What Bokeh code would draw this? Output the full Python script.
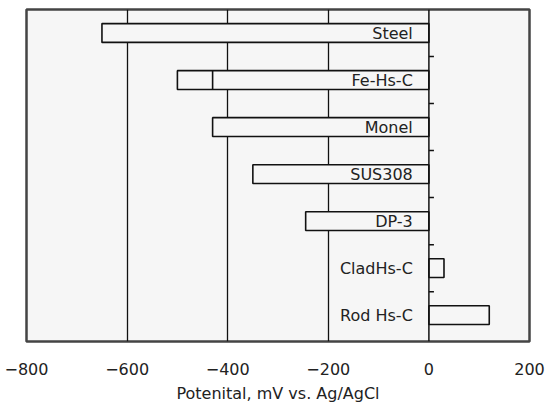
from bokeh.plotting import figure
from bokeh.models import Range1d, FixedTicker, Span, ColumnDataSource
from bokeh.embed import file_html
from bokeh.resources import INLINE
from bokeh.core.properties import value

materials = ["Steel", "Fe-Hs-C", "Monel", "SUS308", "DP-3", "CladHs-C", "Rod Hs-C"]
potentials = [-650, -500, -430, -350, -245, 30, 120]
fehsc_divider = -430
x_ticks = [-800, -600, -400, -200, 0, 200]
x_tick_labels = ["−800", "−600", "−400", "−200", "0", "200"]
grid_values = [-600, -400, -200]

BG = "#f6f6f6"
FONT = "DejaVu Sans"

pos = list(range(len(materials)))

p = figure(width=558, height=405, output_backend="svg", toolbar_location=None,
           x_range=Range1d(-800, 200), y_range=Range1d(6.56, -0.5),
           min_border_left=26, min_border_right=29, min_border_top=9, min_border_bottom=62)
p.background_fill_color = BG
p.border_fill_color = "white"
p.outline_line_color = "#444444"
p.outline_line_width = 2.5

p.yaxis.visible = False
p.ygrid.visible = False
p.xgrid.ticker = FixedTicker(ticks=grid_values)
p.xgrid.grid_line_color = "#111111"
p.xgrid.grid_line_width = 1.3

ax = p.xaxis[0]
ax.ticker = FixedTicker(ticks=x_ticks)
ax.major_label_overrides = {t: l for t, l in zip(x_ticks, x_tick_labels)}
ax.axis_line_color = None
ax.major_tick_line_color = None
ax.minor_tick_line_color = None
ax.major_label_standoff = 15
ax.major_label_text_font = FONT
ax.major_label_text_font_size = "16px"
ax.major_label_text_color = "#222222"
ax.axis_label = "Potenital, mV vs. Ag/AgCl"
ax.axis_label_text_font = FONT
ax.axis_label_text_font_size = "16px"
ax.axis_label_text_font_style = "normal"
ax.axis_label_text_color = "#222222"
ax.axis_label_standoff = 6

src = ColumnDataSource(dict(y=pos, left=[min(v, 0) for v in potentials],
                            right=[max(v, 0) for v in potentials], name=materials))
p.hbar(y="y", left="left", right="right", height=0.40, source=src,
       fill_color=BG, line_color="#111111", line_width=1.6)

# divider inside the Fe-Hs-C bar
i_fe = materials.index("Fe-Hs-C")
p.segment(x0=[fehsc_divider], x1=[fehsc_divider], y0=[i_fe - 0.2], y1=[i_fe + 0.2],
          line_color="#111111", line_width=1.6)

# zero line with ticks between categories
p.add_layout(Span(location=0, dimension="height", line_color="#111111", line_width=1.5))
bounds = [i + 0.5 for i in pos[:-1]]
p.segment(x0=[0] * len(bounds), x1=[10] * len(bounds), y0=bounds, y1=bounds,
          line_color="#111111", line_width=1.5)

p.text(x=[-32] * len(materials), y=pos, text=materials, text_align="right",
       text_baseline="middle", text_font=value(FONT), text_font_size="16px",
       text_color="#222222")

open("out.html", "w").write(file_html(p, INLINE))
